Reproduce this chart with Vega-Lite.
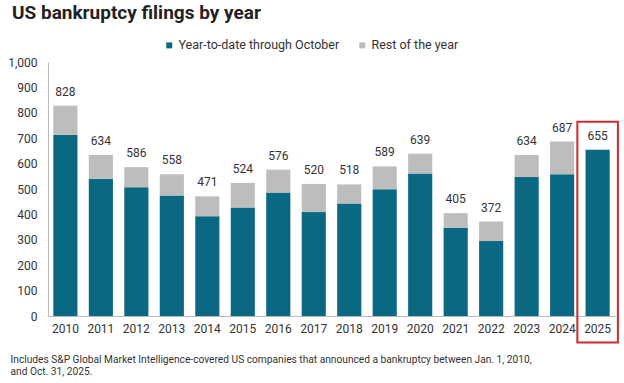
{
  "$schema": "https://vega.github.io/schema/vega-lite/v6.json",
  "autosize": "none",
  "width": 567,
  "height": 254,
  "padding": {"left": 48, "top": 62, "right": 9, "bottom": 67},
  "background": "white",
  "config": {
    "view": {"stroke": null},
    "font": "Roboto",
    "numberFormat": ",.0f",
    "axisY": {
      "grid": false,
      "ticks": false,
      "domainColor": "#bbbbbb",
      "labelPadding": 11,
      "labelFontSize": 12,
      "labelColor": "#333333",
      "labelFont": "Roboto",
      "labelOverlap": false,
      "tickCount": 10,
      "titleOpacity": 0
    }
  },
  "title": {
    "text": "US bankruptcy filings by year",
    "anchor": "start",
    "frame": "group",
    "dx": -36,
    "fontSize": 19,
    "fontWeight": "bold",
    "color": "#222222",
    "font": "Roboto",
    "offset": 16
  },
  "datasets": {
    "bars": [
      {"year": "2010", "series": "Year-to-date through October", "n": 713},
      {"year": "2010", "series": "Rest of the year", "n": 115},
      {"year": "2011", "series": "Year-to-date through October", "n": 540},
      {"year": "2011", "series": "Rest of the year", "n": 94},
      {"year": "2012", "series": "Year-to-date through October", "n": 507},
      {"year": "2012", "series": "Rest of the year", "n": 79},
      {"year": "2013", "series": "Year-to-date through October", "n": 474},
      {"year": "2013", "series": "Rest of the year", "n": 84},
      {"year": "2014", "series": "Year-to-date through October", "n": 393},
      {"year": "2014", "series": "Rest of the year", "n": 78},
      {"year": "2015", "series": "Year-to-date through October", "n": 427},
      {"year": "2015", "series": "Rest of the year", "n": 97},
      {"year": "2016", "series": "Year-to-date through October", "n": 486},
      {"year": "2016", "series": "Rest of the year", "n": 90},
      {"year": "2017", "series": "Year-to-date through October", "n": 409},
      {"year": "2017", "series": "Rest of the year", "n": 111},
      {"year": "2018", "series": "Year-to-date through October", "n": 443},
      {"year": "2018", "series": "Rest of the year", "n": 75},
      {"year": "2019", "series": "Year-to-date through October", "n": 499},
      {"year": "2019", "series": "Rest of the year", "n": 90},
      {"year": "2020", "series": "Year-to-date through October", "n": 561},
      {"year": "2020", "series": "Rest of the year", "n": 78},
      {"year": "2021", "series": "Year-to-date through October", "n": 347},
      {"year": "2021", "series": "Rest of the year", "n": 58},
      {"year": "2022", "series": "Year-to-date through October", "n": 295},
      {"year": "2022", "series": "Rest of the year", "n": 77},
      {"year": "2023", "series": "Year-to-date through October", "n": 547},
      {"year": "2023", "series": "Rest of the year", "n": 87},
      {"year": "2024", "series": "Year-to-date through October", "n": 558},
      {"year": "2024", "series": "Rest of the year", "n": 129},
      {"year": "2025", "series": "Year-to-date through October", "n": 655}
    ],
    "totals": [
      {"year": "2010", "total": 828},
      {"year": "2011", "total": 634},
      {"year": "2012", "total": 586},
      {"year": "2013", "total": 558},
      {"year": "2014", "total": 471},
      {"year": "2015", "total": 524},
      {"year": "2016", "total": 576},
      {"year": "2017", "total": 520},
      {"year": "2018", "total": 518},
      {"year": "2019", "total": 589},
      {"year": "2020", "total": 639},
      {"year": "2021", "total": 405},
      {"year": "2022", "total": 372},
      {"year": "2023", "total": 634},
      {"year": "2024", "total": 687},
      {"year": "2025", "total": 655}
    ],
    "highlight": [
      {"year": "2025", "top": 765, "bottom": -104}
    ]
  },
  "encoding": {
    "x": {
      "field": "year",
      "type": "nominal",
      "sort": null,
      "scale": {"paddingInner": 0.32, "paddingOuter": 0.15},
      "axis": {
        "labelAngle": 0,
        "ticks": false,
        "domainColor": "#bbbbbb",
        "labelPadding": 7,
        "labelFontSize": 12,
        "labelColor": "#333333",
        "labelFont": "Roboto",
        "title": ["Includes S&P Global Market Intelligence-covered US companies that announced a bankruptcy between Jan. 1, 2010,", "and Oct. 31, 2025."],
        "titleFont": "Roboto",
        "titleFontSize": 10.2,
        "titleFontWeight": "normal",
        "titleColor": "#333333",
        "titleAnchor": "start",
        "titleAlign": "left",
        "titleBaseline": "top",
        "titleX": -38,
        "titleY": 38,
        "titleLineHeight": 12.5
      }
    }
  },
  "layer": [
    {
      "data": {"name": "bars"},
      "mark": {"type": "bar"},
      "encoding": {
        "y": {
          "field": "n",
          "type": "quantitative",
          "stack": "zero",
          "scale": {"domain": [0, 1000], "nice": false},
          "title": null
        },
        "color": {
          "field": "series",
          "type": "nominal",
          "sort": ["Year-to-date through October", "Rest of the year"],
          "scale": {
            "domain": ["Year-to-date through October", "Rest of the year"],
            "range": ["#0a6882", "#bdbdbd"]
          },
          "legend": {
            "title": null,
            "orient": "none",
            "direction": "horizontal",
            "legendX": 115,
            "legendY": -23,
            "symbolType": "square",
            "symbolSize": 36,
            "labelFontSize": 12.5,
            "labelLimit": 300,
            "labelColor": "#333333",
            "labelFont": "Roboto",
            "labelOffset": 3,
            "columnPadding": 16
          }
        },
        "order": {"field": "series", "sort": "descending"}
      }
    },
    {
      "data": {"name": "totals"},
      "mark": {"type": "text", "baseline": "bottom", "dy": -7, "fontSize": 12, "color": "#333333", "font": "Roboto"},
      "encoding": {
        "y": {"field": "total", "type": "quantitative", "scale": {"domain": [0, 1000], "nice": false}, "title": null},
        "text": {"field": "total", "type": "quantitative"}
      }
    },
    {
      "data": {"name": "highlight"},
      "mark": {"type": "bar", "fill": null, "stroke": "#d0282e", "strokeWidth": 2, "width": {"band": 1.68}},
      "encoding": {
        "y": {"field": "top", "type": "quantitative", "scale": {"domain": [0, 1000], "nice": false}, "title": null},
        "y2": {"field": "bottom"}
      }
    }
  ]
}
